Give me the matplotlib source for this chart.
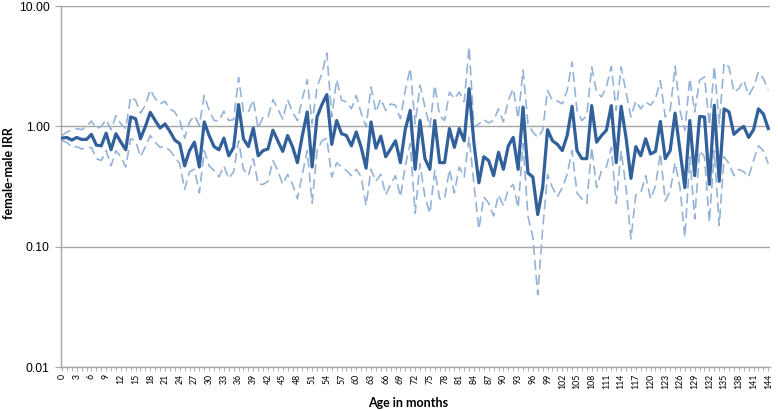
import matplotlib
matplotlib.use("Agg")
import matplotlib.pyplot as plt
from matplotlib.ticker import FixedLocator, FuncFormatter, NullFormatter
import numpy as np

months = list(range(0, 145))

irr = [0.80, 0.81, 0.77, 0.81, 0.78, 0.78, 0.86, 0.70, 0.69, 0.88,
       0.64, 0.87, 0.74, 0.64, 1.20, 1.16, 0.79, 1.00, 1.31, 1.12,
       0.97, 1.05, 0.91, 0.77, 0.72, 0.47, 0.63, 0.74, 0.46, 1.09,
       0.84, 0.68, 0.64, 0.80, 0.57, 0.67, 1.52, 0.79, 0.68, 0.97,
       0.57, 0.63, 0.65, 0.93, 0.76, 0.62, 0.84, 0.68, 0.50, 0.84,
       1.32, 0.46, 1.20, 1.52, 1.84, 0.71, 1.12, 0.87, 0.84, 0.69,
       0.90, 0.67, 0.45, 1.09, 0.66, 0.83, 0.56, 0.65, 0.76, 0.50,
       0.95, 1.36, 0.44, 1.12, 0.54, 0.44, 1.12, 0.50, 0.50, 0.96,
       0.67, 0.96, 0.76, 2.06, 0.72, 0.34, 0.56, 0.52, 0.39, 0.61,
       0.44, 0.69, 0.81, 0.44, 1.45, 0.41, 0.38, 0.185, 0.31, 0.94,
       0.76, 0.71, 0.63, 0.84, 1.47, 0.63, 0.54, 0.54, 1.49, 0.74,
       0.84, 0.93, 1.49, 0.50, 1.47, 0.81, 0.37, 0.68, 0.57, 0.79,
       0.59, 0.62, 1.10, 0.54, 0.63, 1.29, 0.63, 0.31, 1.12, 0.39,
       1.21, 1.20, 0.33, 1.50, 0.35, 1.40, 1.32, 0.86, 0.94, 1.00,
       0.81, 0.94, 1.40, 1.27, 0.96]

upper = [0.84, 0.90, 0.93, 0.96, 0.94, 1.00, 1.11, 0.96, 1.00, 1.14,
         0.94, 1.23, 1.05, 0.96, 1.76, 1.65, 1.29, 1.50, 2.02, 1.70,
         1.54, 1.62, 1.40, 1.32, 1.12, 0.80, 1.09, 1.23, 1.02, 1.81,
         1.36, 1.12, 1.11, 1.34, 1.12, 1.14, 2.55, 1.32, 1.32, 1.67,
         0.96, 1.20, 1.20, 1.67, 1.40, 1.15, 1.67, 1.32, 1.12, 1.70,
         2.45, 1.05, 2.13, 2.75, 4.08, 1.20, 2.45, 1.65, 1.60, 1.40,
         1.81, 1.29, 0.99, 2.13, 1.32, 1.70, 1.36, 1.54, 1.50, 1.16,
         2.00, 3.05, 1.05, 2.20, 1.45, 0.99, 2.20, 1.23, 1.12, 1.93,
         1.70, 1.93, 1.60, 4.58, 0.99, 1.05, 1.14, 1.07, 1.12, 1.40,
         1.09, 1.65, 2.06, 1.16, 2.93, 1.05, 0.90, 0.81, 0.93, 1.99,
         1.65, 1.63, 1.54, 1.99, 3.43, 1.36, 1.12, 1.23, 3.12, 1.93,
         1.76, 2.13, 3.16, 1.36, 3.12, 1.93, 1.20, 1.63, 1.40, 1.60,
         1.50, 1.70, 2.40, 1.20, 1.36, 3.16, 1.36, 0.93, 2.50, 1.32,
         2.42, 2.58, 1.02, 3.16, 1.05, 3.37, 3.12, 1.93, 2.06, 2.42,
         1.81, 2.13, 2.84, 2.50, 2.00]

lower = [0.76, 0.74, 0.67, 0.68, 0.65, 0.66, 0.67, 0.54, 0.52, 0.63,
         0.47, 0.63, 0.56, 0.46, 0.79, 0.76, 0.56, 0.68, 0.84, 0.74,
         0.67, 0.68, 0.63, 0.56, 0.49, 0.30, 0.42, 0.44, 0.28, 0.63,
         0.47, 0.43, 0.38, 0.47, 0.37, 0.42, 0.76, 0.44, 0.39, 0.54,
         0.33, 0.33, 0.35, 0.52, 0.43, 0.33, 0.40, 0.33, 0.25, 0.40,
         0.63, 0.23, 0.63, 0.76, 0.80, 0.38, 0.50, 0.46, 0.43, 0.39,
         0.44, 0.38, 0.22, 0.44, 0.35, 0.40, 0.27, 0.33, 0.39, 0.26,
         0.47, 0.72, 0.19, 0.49, 0.26, 0.19, 0.43, 0.25, 0.25, 0.44,
         0.28, 0.46, 0.38, 0.81, 0.33, 0.14, 0.26, 0.23, 0.18, 0.27,
         0.22, 0.30, 0.33, 0.21, 0.72, 0.18, 0.12, 0.04, 0.14, 0.40,
         0.31, 0.26, 0.31, 0.40, 0.63, 0.28, 0.25, 0.23, 0.67, 0.31,
         0.43, 0.46, 0.67, 0.23, 0.63, 0.31, 0.116, 0.27, 0.28, 0.39,
         0.25, 0.32, 0.60, 0.24, 0.29, 0.50, 0.31, 0.12, 0.56, 0.17,
         0.63, 0.56, 0.16, 0.63, 0.15, 0.56, 0.49, 0.39, 0.44, 0.42,
         0.38, 0.52, 0.69, 0.63, 0.49]

y_ticks = [0.01, 0.10, 1.00, 10.00]
x_label_step = 3

fig = plt.figure(figsize=(7.78, 4.11), dpi=100)
ax = fig.add_axes([0.078, 0.107, 0.912, 0.878])

dash_color = "#95B3D7"
ax.plot(months, upper, color=dash_color, lw=1.2, ls=(0, (6, 3)), zorder=2)
ax.plot(months, lower, color=dash_color, lw=1.2, ls=(0, (6, 3)), zorder=2)
ax.plot(months, irr, color="#31609B", lw=2.3, zorder=3)

ax.set_yscale("log")
ax.set_ylim(0.01, 10)
ax.set_xlim(-0.27, 144.4)
ax.yaxis.set_major_locator(FixedLocator(y_ticks))
ax.yaxis.set_minor_locator(FixedLocator([]))
ax.yaxis.set_major_formatter(FuncFormatter(lambda v, p: f"{v:.2f}"))
ax.yaxis.set_minor_formatter(NullFormatter())
ax.grid(axis="y", which="major", color="#A6A6A6", lw=1.0, zorder=1)

ax.xaxis.set_major_locator(FixedLocator(months[::x_label_step]))
ax.xaxis.set_minor_locator(FixedLocator(months))
ax.set_xticklabels([str(m) for m in months[::x_label_step]], rotation=90,
                   fontsize=6.3, family="Lato")
ax.tick_params(axis="x", which="both", length=3, width=0.6, color="#A6A6A6", pad=2)
ax.tick_params(axis="y", which="major", length=4, width=0.8, color="#A6A6A6",
               labelsize=8.7, pad=4)
for lab in ax.get_yticklabels():
    lab.set_family("Liberation Sans")

for s in ["top", "right"]:
    ax.spines[s].set_visible(False)
for s in ["left", "bottom"]:
    ax.spines[s].set_color("#A6A6A6")
    ax.spines[s].set_linewidth(1.0)

ax.set_xlabel("Age in months", fontsize=9, fontweight="bold", family="Lato")
ax.set_ylabel("female-male IRR", fontsize=9, fontweight="bold", family="Lato")
ax.xaxis.label.set_va("center")
ax.yaxis.label.set_va("center")
ax.xaxis.set_label_coords(0.489, -0.0997)
ax.yaxis.set_label_coords(-0.0729, 0.537)

fig.savefig("out.png", dpi=100)
